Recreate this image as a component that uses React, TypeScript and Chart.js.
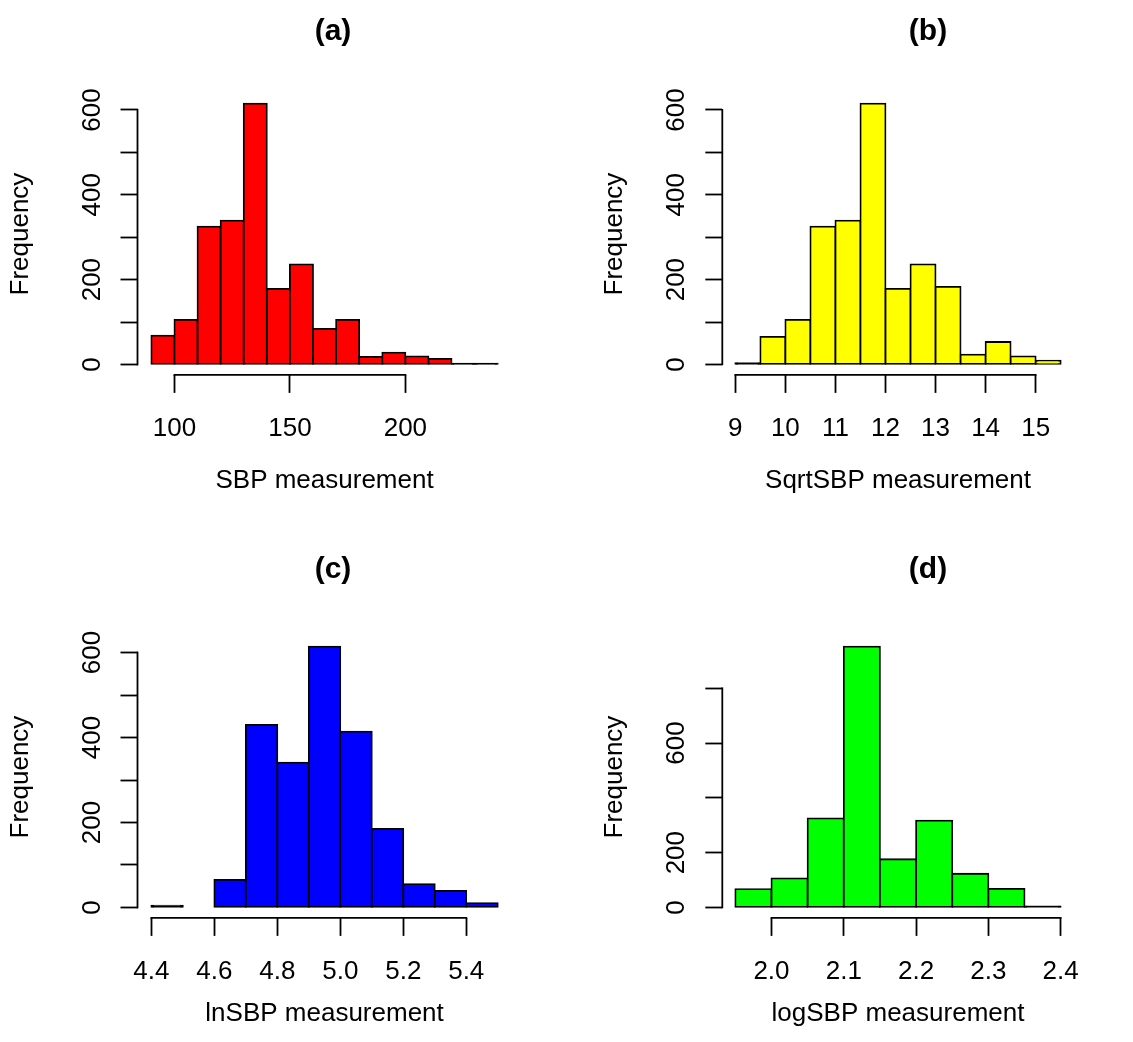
import React, { useEffect, useRef } from "react";
import { Chart, registerables } from "chart.js";

Chart.register(...registerables);

// ---------- DATA ----------
// (a) SBP
const SBP_BREAKS = [90, 100, 110, 120, 130, 140, 150, 160, 170, 180, 190, 200, 210, 220, 230, 240];
const SBP_COUNTS = [68, 105, 325, 339, 615, 178, 236, 84, 105, 18, 28, 19, 13, 2, 2];
const SBP_X_TICKS = [100, 150, 200];
const SBP_X_LABELS = ["100", "150", "200"];

// (b) SqrtSBP
const SQRT_BREAKS = [9, 9.5, 10, 10.5, 11, 11.5, 12, 12.5, 13, 13.5, 14, 14.5, 15, 15.5];
const SQRT_COUNTS = [3, 65, 105, 325, 339, 615, 178, 236, 183, 23, 53, 19, 9];
const SQRT_X_TICKS = [9, 10, 11, 12, 13, 14, 15];
const SQRT_X_LABELS = ["9", "10", "11", "12", "13", "14", "15"];

// (c) lnSBP
const LN_BREAKS = [4.4, 4.5, 4.6, 4.7, 4.8, 4.9, 5.0, 5.1, 5.2, 5.3, 5.4, 5.5];
const LN_COUNTS = [4, 0, 65, 430, 341, 614, 414, 185, 55, 39, 10];
const LN_X_TICKS = [4.4, 4.6, 4.8, 5.0, 5.2, 5.4];
const LN_X_LABELS = ["4.4", "4.6", "4.8", "5.0", "5.2", "5.4"];

// (d) logSBP
const LOG_BREAKS = [1.95, 2.0, 2.05, 2.1, 2.15, 2.2, 2.25, 2.3, 2.35, 2.4];
const LOG_COUNTS = [67, 106, 325, 952, 176, 317, 123, 68, 4];
const LOG_X_TICKS = [2.0, 2.1, 2.2, 2.3, 2.4];
const LOG_X_LABELS = ["2.0", "2.1", "2.2", "2.3", "2.4"];

// y-axis ticks
const Y_TICKS_600 = [0, 100, 200, 300, 400, 500, 600];
const Y_LABELS_600 = ["0", "", "200", "", "400", "", "600"];
const Y_TICKS_800 = [0, 200, 400, 600, 800];
const Y_LABELS_800 = ["0", "200", "", "600", ""];

const TITLES = ["(a)", "(b)", "(c)", "(d)"];
const X_TITLES = ["SBP measurement", "SqrtSBP measurement", "lnSBP measurement", "logSBP measurement"];
const Y_TITLE = "Frequency";
const COLORS = ["#FF0000", "#FFFF00", "#0000FF", "#00FF00"];

// ---------- LAYOUT ----------
const FAMILY = '"Liberation Sans", Arial, Helvetica, sans-serif';
const CANVAS_H = 499;
const PLOT_TOP = 93.2;
const PLOT_BOTTOM = 374.9;
const LINE_W = 1.8;

type PanelSpec = {
  left: number;
  top: number;
  width: number;
  yAxisWidth: number;
  padRight: number;
  breaks: number[];
  counts: number[];
  xTicks: number[];
  xLabels: string[];
  yTicks: number[];
  yLabels: string[];
  title: string;
  titleX: number;
  titleY: number;
  xTitle: string;
  xTitlePadBottom: number;
  yTitlePadTop: number;
  color: string;
};

const PANELS: PanelSpec[] = [
  {
    left: 0, top: 0, width: 566, yAxisWidth: 137.5, padRight: 54.4,
    breaks: SBP_BREAKS, counts: SBP_COUNTS, xTicks: SBP_X_TICKS, xLabels: SBP_X_LABELS,
    yTicks: Y_TICKS_600, yLabels: Y_LABELS_600,
    title: TITLES[0], titleX: 333, titleY: 32, xTitle: X_TITLES[0], xTitlePadBottom: 2.4, yTitlePadTop: 5.4,
    color: COLORS[0],
  },
  {
    left: 566, top: 0, width: 567, yAxisWidth: 156.3, padRight: 59.3,
    breaks: SQRT_BREAKS, counts: SQRT_COUNTS, xTicks: SQRT_X_TICKS, xLabels: SQRT_X_LABELS,
    yTicks: Y_TICKS_600, yLabels: Y_LABELS_600,
    title: TITLES[1], titleX: 362, titleY: 32, xTitle: X_TITLES[1], xTitlePadBottom: 2.4, yTitlePadTop: 33,
    color: COLORS[1],
  },
  {
    left: 0, top: 543, width: 566, yAxisWidth: 137.5, padRight: 54.4,
    breaks: LN_BREAKS, counts: LN_COUNTS, xTicks: LN_X_TICKS, xLabels: LN_X_LABELS,
    yTicks: Y_TICKS_600, yLabels: Y_LABELS_600,
    title: TITLES[2], titleX: 333, titleY: 27, xTitle: X_TITLES[2], xTitlePadBottom: 12.4, yTitlePadTop: 5.4,
    color: COLORS[2],
  },
  {
    left: 566, top: 543, width: 567, yAxisWidth: 156.3, padRight: 59.3,
    breaks: LOG_BREAKS, counts: LOG_COUNTS, xTicks: LOG_X_TICKS, xLabels: LOG_X_LABELS,
    yTicks: Y_TICKS_800, yLabels: Y_LABELS_800,
    title: TITLES[3], titleX: 362, titleY: 27, xTitle: X_TITLES[3], xTitlePadBottom: 12.4, yTitlePadTop: 33,
    color: COLORS[3],
  },
];

function makePlugin(spec: PanelSpec) {
  return {
    id: "rStyle",
    afterDraw(chart: any) {
      const { ctx } = chart;
      const x = chart.scales.x;
      const y = chart.scales.y;
      ctx.save();
      ctx.strokeStyle = "#000";
      ctx.lineWidth = LINE_W;
      // x axis line spanning first to last tick (R style)
      const xt = x.ticks;
      ctx.beginPath();
      ctx.moveTo(x.getPixelForValue(xt[0].value) - LINE_W / 2, x.top);
      ctx.lineTo(x.getPixelForValue(xt[xt.length - 1].value) + LINE_W / 2, x.top);
      ctx.stroke();
      // y axis line
      const yt = y.ticks;
      ctx.beginPath();
      ctx.moveTo(y.right, y.getPixelForValue(yt[0].value) + LINE_W / 2);
      ctx.lineTo(y.right, y.getPixelForValue(yt[yt.length - 1].value) - LINE_W / 2);
      ctx.stroke();
      // panel title
      ctx.fillStyle = "#000";
      ctx.font = `bold 30px ${FAMILY}`;
      ctx.textAlign = "center";
      ctx.textBaseline = "middle";
      ctx.fillText(spec.title, spec.titleX, spec.titleY);
      ctx.restore();
    },
  };
}

function Panel({ spec }: { spec: PanelSpec }) {
  const ref = useRef<HTMLCanvasElement | null>(null);

  useEffect(() => {
    if (!ref.current) return;
    const { breaks, counts } = spec;
    const data = counts.map((c, i) => ({ x: (breaks[i] + breaks[i + 1]) / 2, y: c }));
    const xSpan = breaks[breaks.length - 1] - breaks[0];
    const xMin = breaks[0] - 0.04 * xSpan;
    const xMax = breaks[breaks.length - 1] + 0.04 * xSpan;
    const maxCount = Math.max(...counts);
    const yMin = -0.04 * maxCount;
    const yMax = 1.04 * maxCount;
    const tickFont = { family: FAMILY, size: 26 };

    // bars thinner than the outline are drawn as a dark line, as R does
    const fillFor = (c: any) => {
      const raw = c.raw;
      if (!raw) return spec.color;
      if (raw.y === 0) return "rgba(0,0,0,0)";
      const ys = c.chart.scales.y;
      if (!ys) return spec.color;
      const h = ys.getPixelForValue(0) - ys.getPixelForValue(raw.y);
      return h < 2.5 ? "#000" : spec.color;
    };

    const chart = new Chart(ref.current, {
      type: "bar",
      data: {
        datasets: [
          {
            data,
            backgroundColor: fillFor,
            borderColor: "#000",
            borderWidth: LINE_W,
            inflateAmount: LINE_W / 2,
            borderSkipped: false,
            barPercentage: 1,
            categoryPercentage: 1,
          } as any,
        ],
      },
      options: {
        responsive: false,
        animation: false,
        devicePixelRatio: 1,
        events: [],
        layout: { padding: { top: PLOT_TOP, left: 0, right: spec.padRight, bottom: 0 } },
        plugins: {
          legend: { display: false },
          tooltip: { enabled: false },
          title: { display: false },
        },
        scales: {
          x: {
            type: "linear",
            min: xMin,
            max: xMax,
            offset: false,
            bounds: "data",
            afterBuildTicks: (s: any) => {
              s.ticks = spec.xTicks.map((v) => ({ value: v }));
            },
            afterFit: (s: any) => {
              s.height = CANVAS_H - PLOT_BOTTOM;
            },
            grid: {
              display: true,
              drawOnChartArea: false,
              drawTicks: true,
              tickLength: 18,
              tickWidth: LINE_W,
              tickColor: "#000",
              offset: false,
            },
            border: { display: false },
            ticks: {
              autoSkip: false,
              maxRotation: 0,
              minRotation: 0,
              padding: 20.5,
              color: "#000",
              font: tickFont,
              callback: (_v: any, i: number) => spec.xLabels[i],
            },
            title: {
              display: true,
              text: spec.xTitle,
              color: "#000",
              font: tickFont,
              padding: { top: 0, bottom: spec.xTitlePadBottom },
            },
          },
          y: {
            type: "linear",
            min: yMin,
            max: yMax,
            bounds: "data",
            afterBuildTicks: (s: any) => {
              s.ticks = spec.yTicks.map((v) => ({ value: v }));
            },
            afterFit: (s: any) => {
              s.width = spec.yAxisWidth;
            },
            grid: {
              display: true,
              drawOnChartArea: false,
              drawTicks: true,
              tickLength: 17,
              tickWidth: LINE_W,
              tickColor: "#000",
            },
            border: { display: false },
            ticks: {
              autoSkip: false,
              minRotation: 90,
              maxRotation: 90,
              crossAlign: "center",
              padding: 6.4,
              color: "#000",
              font: tickFont,
              callback: (_v: any, i: number) => spec.yLabels[i],
            },
            title: {
              display: true,
              text: Y_TITLE,
              color: "#000",
              font: tickFont,
              padding: { top: spec.yTitlePadTop, bottom: 0 },
            },
          },
        },
      } as any,
      plugins: [makePlugin(spec)],
    });
    return () => chart.destroy();
  }, [spec]);

  return (
    <canvas
      ref={ref}
      width={spec.width}
      height={CANVAS_H}
      style={{ position: "absolute", left: spec.left, top: spec.top, width: spec.width, height: CANVAS_H }}
    />
  );
}

export default function App() {
  return (
    <div style={{ position: "absolute", left: 0, top: 0, width: 1133, height: 1042, background: "#fff", overflow: "hidden" }}>
      {PANELS.map((p, i) => (
        <Panel key={i} spec={p} />
      ))}
    </div>
  );
}
